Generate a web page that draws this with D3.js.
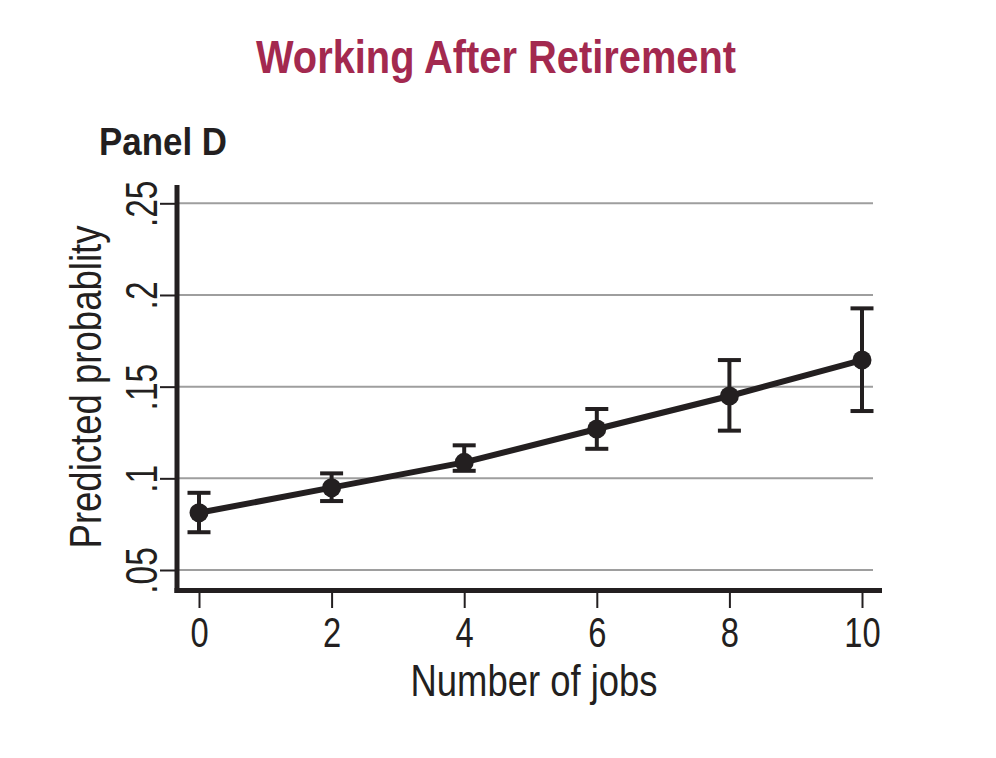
<!DOCTYPE html>
<html>
<head>
<meta charset="utf-8">
<script src="https://cdn.jsdelivr.net/npm/d3@7"></script>
<style>
  html, body { margin: 0; padding: 0; background: #fff; }
  svg { display: block; }
  text { font-family: "Liberation Sans", Arial, sans-serif; }
</style>
</head>
<body>
<script>
"use strict";

// chart data
const jobs = [0, 2, 4, 6, 8, 10];
const predicted = [0.0812, 0.0949, 0.1087, 0.1269, 0.1449, 0.1645];
const ciLow = [0.0706, 0.0876, 0.1041, 0.1161, 0.1260, 0.1367];
const ciHigh = [0.0921, 0.1027, 0.1180, 0.1378, 0.1645, 0.1927];
const xTicks = [0, 2, 4, 6, 8, 10];
const yTicks = [0.05, 0.1, 0.15, 0.2, 0.25];
const yTickLabels = [".05", ".1", ".15", ".2", ".25"];

const W = 996, H = 758;
const ink = "#231f20";

let svg = d3.select("body").append("svg")
    .attr("width", W).attr("height", H)
    .attr("viewBox", `0 0 ${W} ${H}`);

let x = d3.scaleLinear().domain([0, 10]).range([199, 862]);
let y = d3.scaleLinear().domain([0.05, 0.25]).range([570, 203.3]);

// no condensed face installed, so squeeze the glyphs instead
let squeeze = (sel, k) => {
    sel.each(function() {
        let w = this.getComputedTextLength();
        d3.select(this).attr("textLength", w * k).attr("lengthAdjust", "spacingAndGlyphs");
    });
};

// title
svg.append("text")
    .attr("x", 496).attr("y", 72.5)
    .attr("text-anchor", "middle")
    .attr("font-size", 46).attr("font-weight", "bold")
    .attr("fill", "#a3294f")
    .attr("textLength", 480).attr("lengthAdjust", "spacingAndGlyphs")
    .text("Working After Retirement");

svg.append("text")
    .attr("x", 99).attr("y", 155)
    .attr("font-size", 38).attr("font-weight", "bold")
    .attr("fill", ink)
    .attr("textLength", 128).attr("lengthAdjust", "spacingAndGlyphs")
    .text("Panel D");

// gridlines
svg.append("g")
    .selectAll("line")
    .data(yTicks)
    .enter()
    .append("line")
    .attr("x1", 179).attr("x2", 873)
    .attr("y1", d => y(d)).attr("y2", d => y(d))
    .attr("stroke", "#9e9e9e")
    .attr("stroke-width", 2);

// y axis
let yAxis = d3.axisLeft(y)
    .tickValues(yTicks)
    .tickFormat((d, i) => yTickLabels[i])
    .tickSize(17)
    .tickPadding(4);

let gy = svg.append("g")
    .attr("transform", "translate(177,0)")
    .call(yAxis);
gy.select(".domain").remove();
gy.selectAll(".tick line").attr("stroke", ink).attr("stroke-width", 2);
gy.selectAll(".tick text")
    .attr("fill", ink)
    .attr("font-size", 44)
    .attr("font-family", "'Liberation Sans', sans-serif")
    .attr("text-anchor", "middle")
    .attr("x", 0).attr("dy", 0)
    .attr("transform", "translate(-20,0) rotate(-90)")
    .call(squeeze, 0.76);

// x axis
let xAxis = d3.axisBottom(x)
    .tickValues(xTicks)
    .tickFormat(d3.format("d"))
    .tickSize(16)
    .tickPadding(6);

let gx = svg.append("g")
    .attr("transform", "translate(0,592)")
    .call(xAxis);
gx.select(".domain").remove();
gx.selectAll(".tick line").attr("stroke", ink).attr("stroke-width", 2);
gx.selectAll(".tick text")
    .attr("fill", ink)
    .attr("font-size", 43)
    .attr("font-family", "'Liberation Sans', sans-serif")
    .attr("dy", 0).attr("y", 55)
    .call(squeeze, 0.76);

// axis lines
svg.append("line")
    .attr("x1", 177).attr("x2", 177)
    .attr("y1", 185).attr("y2", 593)
    .attr("stroke", ink).attr("stroke-width", 5);
svg.append("line")
    .attr("x1", 174.5).attr("x2", 882)
    .attr("y1", 590.5).attr("y2", 590.5)
    .attr("stroke", ink).attr("stroke-width", 5);

// axis titles
svg.append("text")
    .attr("x", 534).attr("y", 696)
    .attr("text-anchor", "middle")
    .attr("font-size", 45)
    .attr("fill", ink)
    .attr("textLength", 247).attr("lengthAdjust", "spacingAndGlyphs")
    .text("Number of jobs");

svg.append("text")
    .attr("transform", "translate(101,387) rotate(-90)")
    .attr("text-anchor", "middle")
    .attr("font-size", 44)
    .attr("fill", ink)
    .attr("textLength", 323).attr("lengthAdjust", "spacingAndGlyphs")
    .text("Predicted probablity");

// data
let pts = jobs.map((j, i) => ({ j: j, p: predicted[i], lo: ciLow[i], hi: ciHigh[i] }));

let bars = svg.append("g").attr("stroke", ink).attr("stroke-width", 4);
bars.selectAll("line.v")
    .data(pts).enter().append("line")
    .attr("class", "v")
    .attr("x1", d => x(d.j)).attr("x2", d => x(d.j))
    .attr("y1", d => y(d.lo)).attr("y2", d => y(d.hi));
bars.selectAll("line.top")
    .data(pts).enter().append("line")
    .attr("class", "top")
    .attr("x1", d => x(d.j) - 11.5).attr("x2", d => x(d.j) + 11.5)
    .attr("y1", d => y(d.hi)).attr("y2", d => y(d.hi));
bars.selectAll("line.bot")
    .data(pts).enter().append("line")
    .attr("class", "bot")
    .attr("x1", d => x(d.j) - 11.5).attr("x2", d => x(d.j) + 11.5)
    .attr("y1", d => y(d.lo)).attr("y2", d => y(d.lo));

let line = d3.line().x(d => x(d.j)).y(d => y(d.p));
svg.append("path")
    .datum(pts)
    .attr("d", line)
    .attr("fill", "none")
    .attr("stroke", ink)
    .attr("stroke-width", 6);

svg.append("g")
    .selectAll("circle")
    .data(pts).enter().append("circle")
    .attr("cx", d => x(d.j)).attr("cy", d => y(d.p))
    .attr("r", 9.5)
    .attr("fill", ink);
</script>
</body>
</html>
